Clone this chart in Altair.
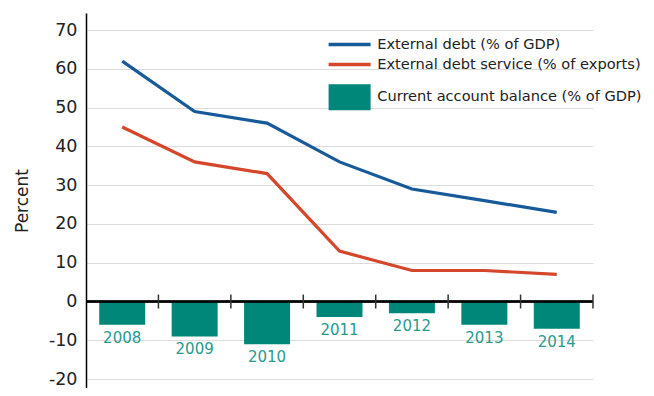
import altair as alt
import pandas as pd

years = ["2008", "2009", "2010", "2011", "2012", "2013", "2014"]
external_debt = [62, 49, 46, 36, 29, 26, 23]
debt_service = [45, 36, 33, 13, 8, 8, 7]
current_account = [-6, -9, -11, -4, -3, -6, -7]
y_ticks = [-20, -10, 0, 10, 20, 30, 40, 50, 60, 70]

name_debt = "External debt (% of GDP)"
name_service = "External debt service (% of exports)"
name_cab = "Current account balance (% of GDP)"

BLUE = "#175a9a"
RED = "#d4472a"
TEAL = "#00877a"
TEAL_TXT = "#2a9a8c"
FONT = "DejaVu Sans"

debt_df = pd.DataFrame({"year": years, "value": external_debt, "series": [name_debt] * len(years)})
service_df = pd.DataFrame({"year": years, "value": debt_service, "series": [name_service] * len(years)})
bar_df = pd.DataFrame({"year": years, "value": current_account, "label": [name_cab] * len(years)})

xscale = alt.Scale(domain=years, paddingInner=0, paddingOuter=0)
yscale = alt.Scale(domain=[-22.3, 74.4], nice=False, zero=False)

x = alt.X("year:N", scale=xscale, axis=None)


def line_legend(y):
    return alt.Legend(orient="none", legendX=240.6, legendY=y, title=None,
                      symbolType="stroke", symbolSize=1764, symbolStrokeWidth=3.5,
                      labelFontSize=14.6, labelOffset=4.6, labelColor="#222",
                      labelFont=FONT, padding=0, labelLimit=0)


bars = alt.Chart(bar_df).mark_bar(width=alt.RelativeBandSize(0.635)).encode(
    x=x,
    y=alt.Y("value:Q", scale=yscale, axis=alt.Axis(
        values=y_ticks, title="Percent", titleFontSize=17, titleFontWeight="normal",
        titleColor="#222", titlePadding=17, labelFontSize=17.5, labelColor="#222",
        labelPadding=9, tickSize=0, domainColor="#000", domainWidth=1.5,
        gridColor="#dcdcdc", gridWidth=1.2, labelFont=FONT, titleFont=FONT,
        labelExpr="datum.value < 0 ? '-' + abs(datum.value) : datum.label")),
    y2=alt.Y2(datum=0),
    fill=alt.Fill("label:N", scale=alt.Scale(domain=[name_cab], range=[TEAL]),
                  legend=alt.Legend(orient="none", legendX=241.6, legendY=62.2, title=None,
                                    symbolType="M-1,-0.62H1V0.62H-1Z", symbolSize=1764,
                                    symbolOpacity=1, labelFontSize=14.6, labelOffset=5.6,
                                    labelColor="#222", labelFont=FONT, padding=0, labelLimit=0)),
)

year_labels = alt.Chart(bar_df).mark_text(baseline="top", dy=6, fontSize=15, color=TEAL_TXT, font=FONT).encode(
    x=x, y=alt.Y("value:Q", scale=yscale), text="year:N"
)

zero_line = alt.Chart(bar_df).mark_rule(color="#000", strokeWidth=1.5).encode(y=alt.datum(0))

ticks = alt.Chart(bar_df).mark_rule(color="#333", strokeWidth=1.5).encode(
    x=alt.X("year:N", scale=xscale, bandPosition=1, axis=None),
    y=alt.datum(1.8), y2=alt.datum(-1.8),
)

debt_line = alt.Chart(debt_df).mark_line(strokeWidth=3.2).encode(
    x=x,
    y=alt.Y("value:Q", scale=yscale),
    color=alt.Color("series:N", scale=alt.Scale(domain=[name_debt], range=[BLUE]),
                    legend=line_legend(8.5)),
)

service_line = alt.Chart(service_df).mark_line(strokeWidth=3.2).encode(
    x=x,
    y=alt.Y("value:Q", scale=yscale),
    stroke=alt.Stroke("series:N", scale=alt.Scale(domain=[name_service], range=[RED]),
                      legend=line_legend(28.5)),
)

chart = alt.layer(bars, year_labels, zero_line, ticks, debt_line, service_line).resolve_scale(
    fill="independent", color="independent", stroke="independent"
).properties(
    width=507, height=375,
    autosize=alt.AutoSizeParams(type="none"),
    padding={"left": 78, "top": 5, "right": 53, "bottom": 0},
).configure_view(stroke=None)

chart.save("out.html", embed_options={"renderer": "svg", "actions": False})
